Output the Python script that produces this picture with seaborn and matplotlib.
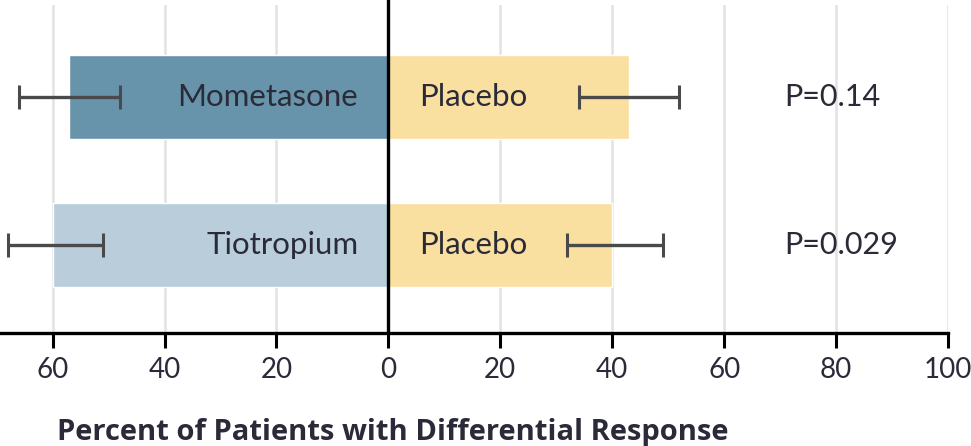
import matplotlib
matplotlib.use("Agg")
import matplotlib.pyplot as plt
import seaborn as sns
import pandas as pd
import numpy as np

# ---- data ----
treatments = ["Mometasone", "Tiotropium"]
treatment_pct = [57, 60]
treatment_ci_low = [48, 51]
treatment_ci_high = [66, 68]
placebo_label = "Placebo"
placebo_pct = [43, 40]
placebo_ci_low = [34, 32]
placebo_ci_high = [52, 49]
p_values = ["P=0.14", "P=0.029"]
tick_values = [-60, -40, -20, 0, 20, 40, 60, 80, 100]
tick_labels = ["60", "40", "20", "0", "20", "40", "60", "80", "100"]
x_label = "Percent of Patients with Differential Response"

sns.set_theme(style="white")
plt.rcParams["font.family"] = ["Lato", "DejaVu Sans"]

txt_color = "#2a2a38"
treat_colors = ["#6894ab", "#b9ceda"]
placebo_color = "#f9dfa0"
err_color = "#4a4a4a"

fig = plt.figure(figsize=(9.71, 4.46), dpi=100)
ax = fig.add_axes([0.0, 113 / 446, 948 / 971, 1 - 113 / 446 - 5 / 446])

df_t = pd.DataFrame({"cat": treatments, "val": [-v for v in treatment_pct]})
df_p = pd.DataFrame({"cat": treatments, "val": placebo_pct})

# gridlines first
for t in tick_values:
    if t != 0:
        ax.axvline(t, color="#e2e2e2", lw=1.8, zorder=0)

sns.barplot(data=df_t, x="val", y="cat", hue="cat", palette=treat_colors,
            orient="h", width=0.57, legend=False, ax=ax, zorder=2,
            errorbar=None, saturation=1)
sns.barplot(data=df_p, x="val", y="cat", color=placebo_color,
            orient="h", width=0.57, ax=ax, zorder=2, errorbar=None,
            saturation=1)

ypos = np.arange(len(treatments))
# error bars
t_val = np.array([-v for v in treatment_pct], dtype=float)
t_lo = np.array([-v for v in treatment_ci_high], dtype=float)
t_hi = np.array([-v for v in treatment_ci_low], dtype=float)
ax.errorbar(t_val, ypos, xerr=[t_val - t_lo, t_hi - t_val], fmt="none",
            ecolor=err_color, elinewidth=2.4, capsize=8.5, capthick=2.2, zorder=4)
p_val = np.array(placebo_pct, dtype=float)
ax.errorbar(p_val, ypos, xerr=[p_val - np.array(placebo_ci_low), np.array(placebo_ci_high) - p_val],
            fmt="none", ecolor=err_color, elinewidth=2.4, capsize=8.5, capthick=2.2, zorder=4)

# labels in bars
for i, name in enumerate(treatments):
    ax.text(-5.4, i, name, ha="right", va="center", fontsize=22.5, color=txt_color, zorder=5)
    ax.text(5.5, i, placebo_label, ha="left", va="center", fontsize=22.5, color=txt_color, zorder=5)
    ax.text(70.7, i, p_values[i], ha="left", va="center", fontsize=22, color=txt_color, zorder=5)

# zero line
ax.axvline(0, color="black", lw=2.4, zorder=6, clip_on=False, ymin=0, ymax=1.02)

ax.set_xlim(-69.4, 100)
ax.set_ylim(1.595, -0.62)
ax.set_xticks(tick_values)
ax.set_xticklabels(tick_labels, fontsize=20, color=txt_color)
ax.set_yticks([])
ax.set_ylabel("")
ax.set_xlabel(x_label, fontsize=21, fontweight="bold", color=txt_color,
              family=["Open Sans", "DejaVu Sans"], loc="left")
ax.xaxis.set_label_coords(57 / 948, -0.26)
ax.tick_params(axis="x", direction="out", length=11, width=2.2, color="black", pad=6, bottom=True)
for s in ["top", "right", "left"]:
    ax.spines[s].set_visible(False)
ax.spines["bottom"].set_color("black")
ax.spines["bottom"].set_linewidth(2.4)
ax.set_facecolor("white")

fig.savefig("out.png", dpi=100, facecolor="white")
